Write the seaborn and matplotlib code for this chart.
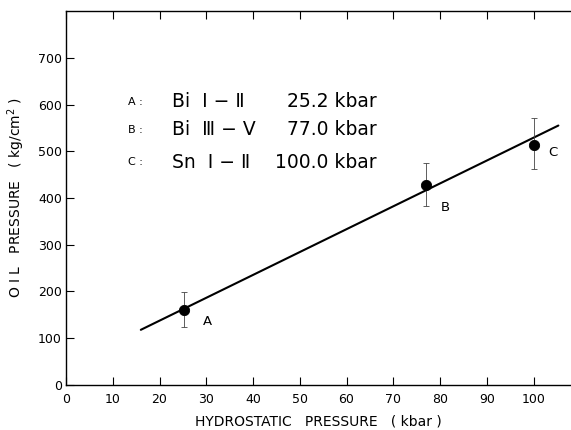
import matplotlib
matplotlib.use("Agg")
import matplotlib.pyplot as plt
import seaborn as sns
import pandas as pd

# calibration points (hydrostatic vs oil pressure)
labels = ["A", "B", "C"]
hydro = [25.2, 77.0, 100.0]
oil = [160, 428, 514]
err_lo = [36, 45, 52]
err_hi = [39, 47, 58]

# fitted line end points
fit_x = [16, 105.3]
fit_y = [118, 555]

# legend text lines
key_letters = ["A :", "B :", "C :"]
key_trans = ["Bi  Ⅰ − Ⅱ", "Bi  Ⅲ − Ⅴ", "Sn  Ⅰ − Ⅱ"]
key_press = ["25.2 kbar", "77.0 kbar", "100.0 kbar"]

x_ticks = [0, 10, 20, 30, 40, 50, 60, 70, 80, 90, 100]
y_ticks = [0, 100, 200, 300, 400, 500, 600, 700]

sns.set_style("ticks", {"text.color": "black", "axes.labelcolor": "black",
                        "xtick.color": "black", "ytick.color": "black",
                        "axes.edgecolor": "black"})
plt.rcParams['font.family'] = ['DejaVu Sans']

fig = plt.figure(figsize=(5.71, 4.30), dpi=100)
ax = fig.add_axes([0.1156, 0.1047, 0.8844, 0.8697])

pts = pd.DataFrame({"x": hydro, "y": oil, "lab": labels})
line = pd.DataFrame({"x": fit_x, "y": fit_y})

sns.lineplot(data=line, x="x", y="y", color="black", lw=1.5, ax=ax)
ax.errorbar(hydro, oil, yerr=[err_lo, err_hi], fmt="none", ecolor="#444444",
            elinewidth=0.6, capsize=2, capthick=0.6)
sns.scatterplot(data=pts, x="x", y="y", color="black", s=55, edgecolor="black",
                zorder=5, ax=ax)

# point labels
offs = [(4.1, -25), (3.1, -49), (3.2, -17)]
for (lx, ly, lab), (dx, dy) in zip(zip(hydro, oil, labels), offs):
    ax.text(lx + dx, ly + dy, lab, fontsize=9.5, va="center", ha="left",
            color="black")

# key text
key_y = [606, 546, 476]
for yy, a, b, c in zip(key_y, key_letters, key_trans, key_press):
    ax.text(13.2, yy, a, fontsize=8, va="center", ha="left", color="black")
    ax.text(22.6, yy, b, fontsize=13.5, va="center", ha="left", color="black")
    ax.text(66.5, yy, c, fontsize=13.5, va="center", ha="right", color="black")

ax.set_xlim(0, 108)
ax.set_ylim(0, 800)
ax.set_xticks(x_ticks)
ax.set_yticks(y_ticks)
ax.tick_params(direction="in", length=6, width=0.8, labelsize=9,
               top=True, right=False, colors="black")
ax.tick_params(axis="x", pad=6)
ax.tick_params(axis="y", pad=3)
ax.spines["right"].set_visible(False)
for s in ["left", "bottom", "top"]:
    ax.spines[s].set_linewidth(1.0)
    ax.spines[s].set_color("black")

ax.set_xlabel("HYDROSTATIC   PRESSURE   ( kbar )", fontsize=10, labelpad=6,
              color="black")
ax.set_ylabel("O I L   PRESSURE   ( kg/cm$^2$ )", fontsize=10, labelpad=8,
              color="black")

fig.savefig("out.png", dpi=100)
